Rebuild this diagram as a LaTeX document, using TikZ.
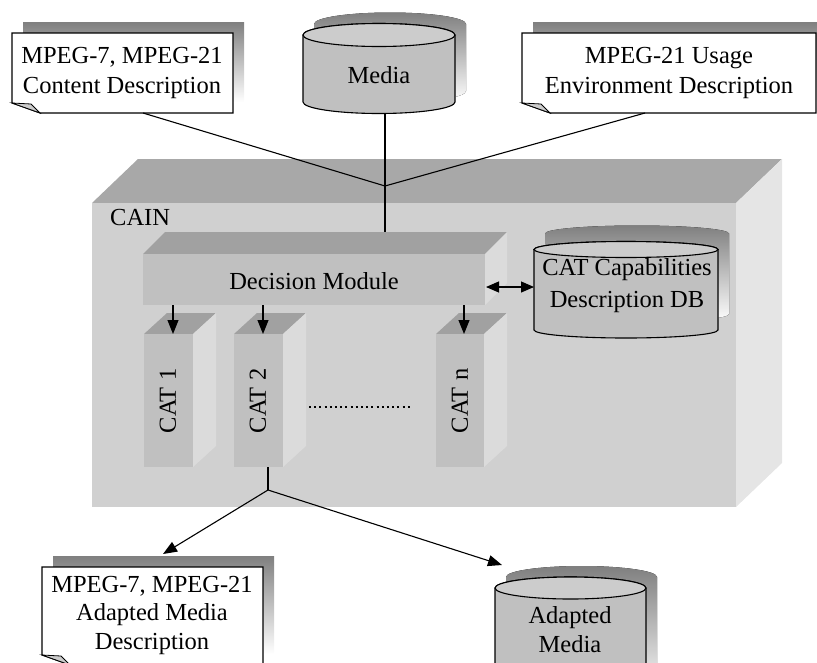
\documentclass[tikz,border=0pt]{standalone}
\usepackage{fontspec}
\setmainfont{Liberation Serif}
\usetikzlibrary{arrows.meta}

\definecolor{shade}{gray}{0.59}
\definecolor{cainfront}{gray}{0.816}
\definecolor{caintop}{gray}{0.66}
\definecolor{cainside}{gray}{0.9}
\definecolor{boxfront}{gray}{0.753}
\definecolor{boxtop}{gray}{0.63}
\definecolor{boxside}{gray}{0.86}
\definecolor{cylbody}{gray}{0.753}
\definecolor{cyltop}{gray}{0.8}
\definecolor{foldgray}{gray}{0.8}

\tikzset{
  lbl/.style={font=\fontsize{24.5}{30.5}\selectfont, align=center, inner sep=0pt},
  outline/.style={draw=black, line width=1.1pt, line join=miter},
  conn/.style={line width=1.1pt},
  arr/.style={conn, -{Triangle[length=14pt,width=11pt]}},
  dblarr/.style={conn, {Triangle[length=13pt,width=11pt]}-{Triangle[length=13pt,width=11pt]}},
  dotrow/.style={line width=2pt, dash pattern=on 2pt off 3.2pt},
}

% cylinder: left x, right x, top centre y, bottom centre y, end radius, shadow lift
\newcommand\cyldrum[6]{%
  \fill[shade] ({#1+11},{#3-#6}) -- ({#1+11},{#4-#6})
    arc[start angle=180, end angle=0, x radius={(#2-#1)/2}, y radius=#5]
    -- ({#2+11},{#3-#6})
    arc[start angle=0, end angle=-180, x radius={(#2-#1)/2}, y radius=#5] -- cycle;
  \path[outline, fill=cylbody] (#1,#3) -- (#1,#4)
    arc[start angle=180, end angle=0, x radius={(#2-#1)/2}, y radius=#5]
    -- (#2,#3)
    arc[start angle=0, end angle=-180, x radius={(#2-#1)/2}, y radius=#5] -- cycle;
  \path[outline, fill=cyltop] ({(#1+#2)/2},#3) ellipse[x radius={(#2-#1)/2}, y radius=#5];
}

% document sheet with a curled lower-left corner: x1, y1, x2, y2
\newcommand\notesheet[4]{%
  \fill[shade] ({#1+11},{#2-11}) rectangle ({#3+11},{#4-11});
  \path[outline, fill=white] (#1,#2) -- (#3,#2) -- (#3,#4) -- ({#1+28},#4)
    -- (#1,{#4-10}) -- cycle;
  \path[outline, fill=foldgray, line width=0.8pt] (#1,{#4-10}) -- ({#1+19},{#4-9})
    -- ({#1+28},#4) -- cycle;
}

% block with depth: x1, y1, x2, y2 of the front face, depth dx, dy, colours
\newcommand\boxprism[9]{%
  \fill[#8] (#1,#2) -- ({#1+#5},{#2-#6}) -- ({#3+#5},{#2-#6}) -- (#3,#2) -- cycle;
  \fill[#9] (#3,#2) -- ({#3+#5},{#2-#6}) -- ({#3+#5},{#4-#6}) -- (#3,#4) -- cycle;
  \fill[#7] (#1,#2) rectangle (#3,#4);
}

\begin{document}
\begin{tikzpicture}[x=1pt, y=-1pt]
\useasboundingbox (0,0) rectangle (817,662);
\clip (0,0) rectangle (817,662);

% inputs
\notesheet{12}{33}{233}{113}
\node[lbl] (cd) at (122,73) {MPEG-7, MPEG-21\\Content Description};
\notesheet{522}{33}{816}{113}
\node[lbl] (ued) at (669,73) {MPEG-21 Usage\\Environment Description};
\cyldrum{303}{455}{35}{102}{11.5}{11}
\node[lbl] (media) at (379,75) {Media};

% CAIN engine
\boxprism{92}{203}{736}{507}{46}{44}{cainfront}{caintop}{cainside}
\node[lbl, anchor=west] (cain) at (110,218) {CAIN};

% connectors into the decision module
\coordinate (cdfoot) at (143,113);
\coordinate (uedfoot) at (645,113);
\coordinate (mediafoot) at (385,113);
\coordinate (join) at (385,186);
\coordinate (dmtop) at (385,254);
\draw[conn] (cdfoot) -- (join);
\draw[conn] (uedfoot) -- (join);
\draw[conn] (mediafoot) -- (join);
\draw[arr] (join) -- (dmtop);

% decision module
\boxprism{143}{254}{485}{305}{22}{22}{boxfront}{boxtop}{boxside}
\node[lbl] (dm) at (314,281) {Decision Module};

% capabilities database
\cyldrum{534}{718}{249.5}{330}{8}{16}
\node[lbl, font=\fontsize{24.5}{32}\selectfont] (capdb) at (627,286) {CAT Capabilities\\Description DB};
\coordinate (dmright) at (486,287);
\coordinate (dbleft) at (534,287);
\draw[dblarr] (dmright) -- (dbleft);

% adaptation tools
\boxprism{144}{334}{193}{467}{23}{21}{boxfront}{boxtop}{boxside}
\boxprism{234}{334}{283}{467}{23}{21}{boxfront}{boxtop}{boxside}
\boxprism{436}{334}{484}{467}{23}{21}{boxfront}{boxtop}{boxside}
\node[lbl, rotate=90] (cat1) at (168,401) {CAT 1};
\node[lbl, rotate=90] (cat2) at (258,401) {CAT 2};
\node[lbl, rotate=90] (catn) at (460,401) {CAT n};
\draw[dotrow] (309,407) -- (410,407);

\coordinate (dmout1) at (173,305);
\coordinate (dmout2) at (263,305);
\coordinate (dmoutn) at (464,305);
\coordinate (cat1top) at (173,334);
\coordinate (cat2top) at (263,334);
\coordinate (catntop) at (464,334);
\draw[arr] (dmout1) -- (cat1top);
\draw[arr] (dmout2) -- (cat2top);
\draw[arr] (dmoutn) -- (catntop);

% outputs
\notesheet{42}{567}{263}{665}
\node[lbl, font=\fontsize{24.5}{28.5}\selectfont] (amd) at (152,615) {MPEG-7, MPEG-21\\Adapted Media\\Description};
\cyldrum{495}{646}{588}{700}{11}{11}
\node[lbl, font=\fontsize{24.5}{29}\selectfont] (amedia) at (570,630) {Adapted\\Media};

\coordinate (cat2foot) at (268,467);
\coordinate (split) at (268,490);
\coordinate (amdtip) at (163,554);
\coordinate (amediatip) at (502,565);
\draw[conn] (cat2foot) -- (split);
\draw[arr] (split) -- (amdtip);
\draw[arr] (split) -- (amediatip);
\end{tikzpicture}
\end{document}
